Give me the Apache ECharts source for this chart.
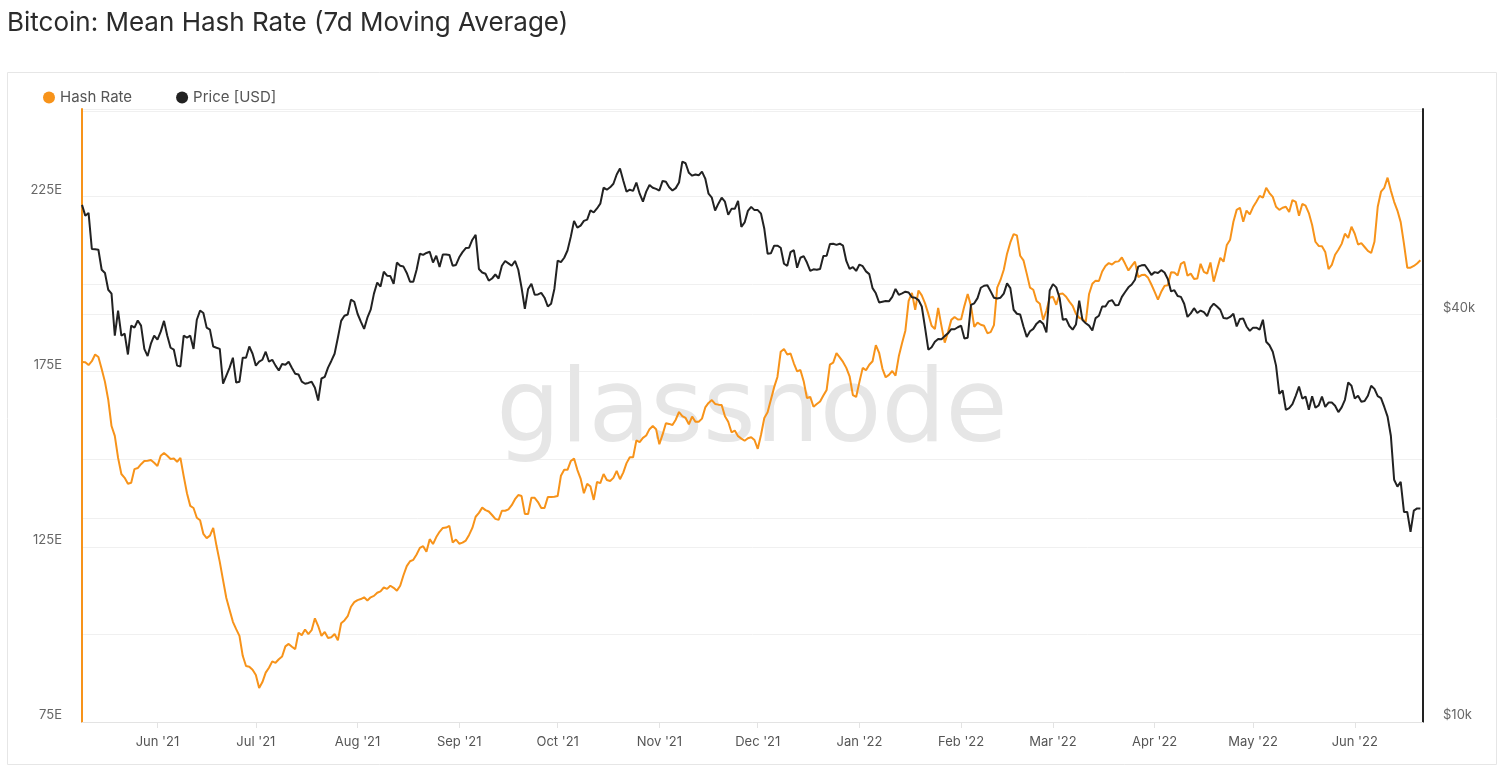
<!DOCTYPE html>
<html>
<head>
<meta charset="utf-8">
<style>
html,body{margin:0;padding:0;background:#ffffff;}
#chart{width:1500px;height:766px;}
</style>
<script src="https://cdn.jsdelivr.net/npm/echarts@6.0.0/dist/echarts.min.js"></script>
</head>
<body>
<div id="chart"></div>
<script>
// ---- data (daily, starting 2021-05-09) ----
const startDate = Date.UTC(2021, 4, 9);
const DAY = 86400000;

// Mean hash rate, 7d moving average (EH/s)
const hashRate = [177.8,177.7,176.9,178.0,179.9,179.2,175.8,172.1,167.0,159.5,
156.7,150.4,145.8,144.7,143.0,143.3,147.2,147.5,148.6,149.5,
149.6,149.8,149.0,148.1,151.0,151.8,151.0,150.1,150.2,149.3,
150.4,145.2,140.3,136.7,136.1,133.3,132.6,128.7,127.5,128.2,
130.4,125.3,120.7,115.5,110.4,107.0,103.6,101.5,99.6,93.9,
91.0,90.8,89.9,88.4,84.7,86.4,89.1,90.5,92.3,91.9,
92.9,93.7,96.6,97.3,96.5,95.8,100.5,99.8,101.4,100.1,
101.2,104.6,102.4,99.6,100.7,99.0,99.2,100.1,98.3,103.2,
104.0,105.2,107.9,109.2,109.8,110.1,110.6,109.7,110.6,111.0,
111.9,112.3,113.4,113.0,113.9,113.3,112.5,113.9,116.9,119.5,
120.9,121.3,122.8,124.7,125.2,123.6,127.2,125.8,127.8,129.3,
130.4,130.5,131.0,126.2,127.1,125.9,126.2,126.8,128.4,130.4,
133.6,134.7,136.2,135.5,135.1,134.1,133.0,132.7,135.3,135.3,
135.7,136.9,138.6,139.8,139.5,134.4,134.4,139.0,139.0,137.8,
136.1,136.1,139.2,139.2,139.3,139.5,145.3,147.0,147.0,149.5,
150.2,147.0,144.5,140.3,143.0,142.2,138.4,143.5,143.2,145.8,
144.1,143.8,144.7,146.7,144.3,146.2,148.9,150.6,150.6,155.4,
154.9,156.1,156.8,158.6,159.5,158.6,154.3,157.1,160.3,160.1,
159.8,161.3,163.5,162.3,161.8,160.0,162.2,160.7,160.7,161.6,
164.8,166.1,166.9,165.8,165.6,165.5,162.3,160.7,157.7,158.2,
156.6,155.9,155.3,156.0,156.3,155.5,153.0,157.0,161.8,163.4,
167.0,170.6,173.5,180.7,181.5,179.9,180.2,177.4,175.1,175.5,
172.3,167.5,167.8,165.0,165.8,166.5,168.2,169.8,177.0,177.6,
180.3,179.1,177.8,176.1,173.7,168.3,167.8,172.1,176.1,175.4,
177.0,178.0,182.6,180.4,175.9,173.4,174.1,175.2,173.9,179.4,
183.2,186.7,195.2,197.5,192.7,198.2,196.8,194.5,191.5,188.1,
187.2,193.2,188.1,183.3,186.3,189.8,190.6,189.9,190.0,193.8,
197.2,193.8,187.8,189.0,188.4,188.1,186.0,186.3,188.3,199.0,
201.2,204.1,208.7,211.9,214.3,213.9,208.1,206.8,203.0,199.0,
198.4,195.2,194.4,189.8,192.4,196.1,196.4,194.1,197.2,197.3,
196.4,195.0,193.8,191.5,190.4,190.0,189.2,197.2,200.1,201.0,
200.9,203.6,205.2,206.0,205.6,206.4,206.5,207.6,205.8,203.9,
205.2,206.4,202.0,202.6,202.7,201.8,199.9,197.8,195.6,197.8,
199.5,199.7,203.4,203.3,202.5,205.8,206.4,202.4,203.0,201.5,
201.6,205.8,203.5,203.0,206.2,200.7,204.1,207.5,206.4,211.2,
212.7,217.8,221.2,221.8,217.8,221.0,219.9,222.0,223.5,225.2,
224.7,227.5,226.0,224.9,222.1,221.2,221.8,222.1,220.6,224.0,
223.5,219.5,222.9,222.4,220.3,216.9,212.1,210.9,210.8,209.2,
204.3,205.5,208.4,209.8,211.5,214.4,213.2,216.4,214.4,211.3,
211.7,210.6,209.5,208.9,212.1,222.1,226.4,227.5,230.4,226.7,
223.5,221.0,217.7,211.5,204.7,204.7,205.2,205.9,206.8];

// BTC price (USD)
const priceUsd = [58100,56000,56530,50000,49940,49870,46590,46080,43520,42950,
37220,40550,37220,37480,34920,38520,38260,39200,38520,35590,
34730,36220,37220,36720,37740,39150,37220,35730,35490,33620,
33530,37220,36970,37220,35590,39300,40550,40220,38260,38000,
35880,35730,35590,31610,32490,33390,34540,31740,31830,34540,
34540,35880,35010,33620,34070,34300,35250,34070,34300,33620,
33070,33800,33710,34070,33340,32710,32620,31830,31610,31700,
31830,31180,29850,32180,32360,33390,34160,35010,36970,39150,
39840,40000,42070,41780,40110,39040,38100,39570,40660,42950,
44600,44000,46270,45650,45590,44420,47740,47220,47090,46080,
44720,44720,46590,49200,49000,49330,49530,47740,48860,47020,
49070,49070,49000,47220,47350,48600,49470,50150,50210,51600,
52450,46710,46150,45960,44900,45220,45840,45220,47220,48000,
47610,47220,48000,46590,43820,40770,43640,44420,42780,42830,
43060,42360,41110,41500,43640,48070,47800,48530,49740,52100,
55020,53770,54130,55020,55250,57000,56610,57390,58330,61590,
61170,61670,62430,64420,65770,63110,60760,61170,60920,62690,
60340,58730,60760,62170,61590,61340,61000,63030,62860,61670,
61000,61500,62690,67300,66930,64780,64160,64420,64240,65050,
63530,60340,59530,57000,58330,59530,58730,56150,57310,57310,
58890,53910,54720,56920,57700,57070,57070,56380,53550,49200,
49270,50560,50560,50210,47550,47220,49470,49800,46900,48530,
48800,47740,46400,46650,46590,46710,48800,48860,50840,50900,
50700,50900,50560,48000,46710,47020,46400,47420,47150,46330,
45900,43760,43000,41670,41780,41890,41840,42480,43640,42780,
43000,43240,43120,42420,42360,42020,41110,38260,35490,35790,
36470,36820,36770,37170,37530,38050,38050,38310,38520,36870,
36970,41330,41560,42300,43820,44120,44180,43280,42360,42250,
42360,42950,44480,43760,40660,40110,40000,38410,37070,37790,
38100,38780,39150,38780,37640,43400,44360,43880,42360,39300,
39410,38470,38000,38670,41950,39250,38830,38520,37890,39520,
39840,41110,41110,41840,42020,41280,41330,42480,43190,43880,
44300,45030,47090,47290,47350,46590,45780,46210,46080,46520,
46150,45150,43280,43460,42600,42480,41500,39680,40160,40880,
40220,40550,40330,39790,40940,41500,41110,40660,39520,39460,
39680,40110,38410,39410,39460,38410,37840,38260,38260,38000,
39300,36470,36030,35250,33620,30550,30890,28930,29090,29490,
30340,31310,30060,30260,28930,30300,29130,29370,30260,29210,
29650,29650,29330,28700,29170,29930,31740,31400,30060,30340,
29730,29810,30340,31400,31060,30300,30100,29210,28270,26480,
22800,22270,22640,20440,20440,19100,20530,20680,20680];

// tick labels
const hashTickValues = [75, 125, 175, 225];
const priceTickLabels = [10000, 40000];
const monthNames = ['Jan','Feb','Mar','Apr','May','Jun','Jul','Aug','Sep','Oct','Nov','Dec'];

// ---- chart ----
const dates = hashRate.map((_, i) => startDate + i * DAY);
const FONT = 'Inter, "Noto Sans", sans-serif';
const chart = echarts.init(document.getElementById('chart'));

const option = {
  useUTC: true,
  animation: false,
  backgroundColor: '#ffffff',
  textStyle: { fontFamily: FONT },
  title: {
    text: 'Bitcoin: Mean Hash Rate (7d Moving Average)',
    left: 7, top: 10, padding: 0,
    textStyle: { fontSize: 26, fontWeight: 'normal', color: '#2b2b2b', fontFamily: FONT }
  },
  legend: {
    left: 38, top: 85, icon: 'circle', itemWidth: 12, itemHeight: 12, itemGap: 44,
    textStyle: { fontSize: 15, color: '#555555', fontFamily: FONT },
    data: ['Hash Rate', 'Price [USD]']
  },
  graphic: [
    { type: 'rect', silent: true, z: -10,
      shape: { x: 7.5, y: 72.5, width: 1489, height: 692 },
      style: { fill: 'none', stroke: '#e6e6e6', lineWidth: 1 } },
    { type: 'text', silent: true, z: 1, x: 752, y: 415,
      style: { text: 'glassnode', fill: '#e6e6e6', fontSize: 101, fontFamily: '"DejaVu Sans", sans-serif',
               align: 'center', verticalAlign: 'middle' } }
  ],
  grid: { left: 82, right: 77, top: 109, bottom: 44, containLabel: false },
  xAxis: {
    type: 'time',
    min: startDate, max: startDate + 408.8 * DAY,
    splitNumber: 14, minInterval: 27 * DAY, maxInterval: 30 * DAY,
    axisLine: { show: true, lineStyle: { color: '#e3e3e3', width: 1 } },
    axisTick: { show: true, length: 6, lineStyle: { color: '#e3e3e3' } },
    splitLine: { show: false },
    axisLabel: {
      color: '#555555', fontSize: 13, margin: 14, fontFamily: FONT,
      formatter: function (v) {
        const d = new Date(v);
        return monthNames[d.getUTCMonth()] + " '" + String(d.getUTCFullYear()).slice(2);
      }
    }
  },
  yAxis: [
    {
      type: 'value', min: 75, max: 250, interval: 25, position: 'left',
      axisLine: { show: true, lineStyle: { color: '#f7931a', width: 2 } },
      axisTick: { show: false },
      axisLabel: {
        color: '#666666', fontSize: 13, margin: 20, verticalAlign: 'bottom', fontFamily: FONT,
        formatter: function (v) { return hashTickValues.indexOf(v) >= 0 ? v + 'E' : ''; }
      },
      splitLine: { show: true, lineStyle: { color: '#f0f0f0', width: 1 } }
    },
    {
      type: 'log', logBase: 10, min: 10000, max: 80500, position: 'right',
      axisLine: { show: true, lineStyle: { color: '#222222', width: 2 } },
      axisTick: { show: false },
      axisLabel: { show: false },
      splitLine: { show: false }
    },
    {
      type: 'value', min: Math.log10(10000), max: Math.log10(80500), interval: Math.log10(2),
      position: 'right',
      axisLine: { show: false }, axisTick: { show: false },
      axisLabel: {
        color: '#666666', fontSize: 13, margin: 20, verticalAlign: 'bottom', fontFamily: FONT,
        formatter: function (v) {
          const p = Math.round(Math.pow(10, v) / 1000) * 1000;
          return priceTickLabels.indexOf(p) >= 0 ? '$' + (p / 1000) + 'k' : '';
        }
      },
      splitLine: { show: true, lineStyle: { color: '#f0f0f0', width: 1 } }
    }
  ],
  series: [
    {
      name: 'Hash Rate', type: 'line', yAxisIndex: 0, showSymbol: false, symbol: 'none',
      color: '#f7931a', lineStyle: { width: 2, color: '#f7931a' }, z: 3,
      data: hashRate.map((v, i) => [dates[i], v])
    },
    {
      name: 'Price [USD]', type: 'line', yAxisIndex: 1, showSymbol: false, symbol: 'none',
      color: '#222222', lineStyle: { width: 2, color: '#222222' }, z: 4,
      data: priceUsd.map((v, i) => [dates[i], v])
    }
  ]
};
chart.setOption(option);
</script>
</body>
</html>
